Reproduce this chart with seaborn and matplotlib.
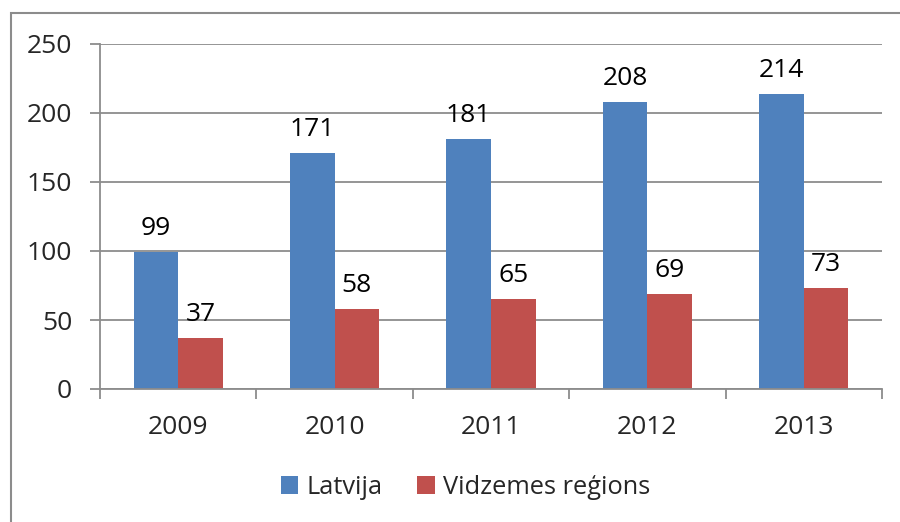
import matplotlib.pyplot as plt
import seaborn as sns
import pandas as pd
from matplotlib.patches import Rectangle

sns.set_style("white")
plt.rcParams['font.family'] = ['Open Sans', 'DejaVu Sans']

years = ['2009', '2010', '2011', '2012', '2013']
latvija = [99, 171, 181, 208, 214]
vidzeme = [37, 58, 65, 69, 73]
series = ['Latvija', 'Vidzemes reģions']
colors = ['#4F81BD', '#C0504D']
grey = '#8c8c8c'

df = pd.DataFrame({
    'year': years * 2,
    'value': latvija + vidzeme,
    'series': [series[0]] * len(years) + [series[1]] * len(years),
})

W, H = 900, 522
fig = plt.figure(figsize=(9, 5.22), dpi=100)
ax = fig.add_axes([100 / W, 1 - 389 / H, 782 / W, (389 - 44) / H])

sns.barplot(data=df, x='year', y='value', hue='series', palette=colors,
            width=0.57, saturation=1, ax=ax, legend=False, edgecolor='none')

for cont in ax.containers:
    ax.bar_label(cont, fmt='%d', padding=8, fontsize=19, color='black')

ax.set_xlim(-0.5, 4.5)
ax.set_ylim(0, 250)
ax.set_yticks([0, 50, 100, 150, 200, 250])
ax.set_xlabel('')
ax.set_ylabel('')
ax.yaxis.grid(True, color=grey, linewidth=1.3)
ax.set_axisbelow(True)
for s in ['top', 'right']:
    ax.spines[s].set_visible(False)
for s in ['left', 'bottom']:
    ax.spines[s].set_color(grey)
    ax.spines[s].set_linewidth(1.3)

ax.set_xticks([i + 0.5 for i in range(-1, 5)], minor=True)
ax.tick_params(axis='x', which='major', length=0, pad=19, labelsize=19)
ax.tick_params(axis='x', which='minor', length=7, width=1.3, color=grey, direction='out')
ax.tick_params(axis='y', which='major', length=7, width=1.3, color=grey, direction='out',
               pad=13, labelsize=19)
ax.tick_params(left=True, bottom=True, which='both')

handles = [Rectangle((0, 0), 1, 1, facecolor=c, edgecolor='none') for c in colors]
fig.legend(handles, series, loc='center', bbox_to_anchor=(465.5 / W, 1 - 487 / H),
           ncol=2, frameon=False, fontsize=18.3, handlelength=0.7, handleheight=0.7,
           handletextpad=0.32, columnspacing=1.36)

fig.add_artist(Rectangle((11 / W, -0.1), 1, 1 - 13 / H + 0.1, transform=fig.transFigure,
                         fill=False, edgecolor=grey, linewidth=1.5))

fig.savefig('out.png', dpi=100)
